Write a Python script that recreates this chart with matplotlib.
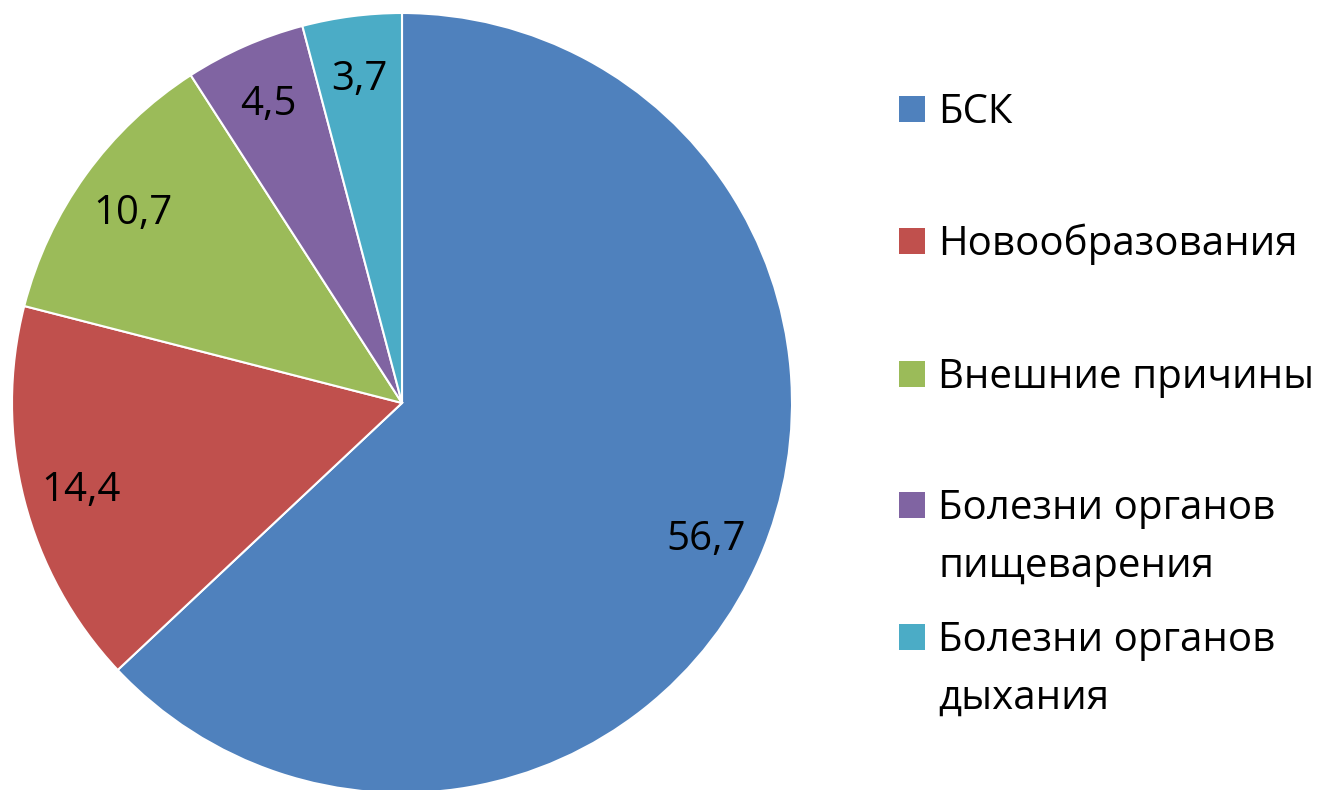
import matplotlib
matplotlib.use("Agg")
import matplotlib.pyplot as plt
from matplotlib.patches import Rectangle

categories = ["БСК", "Новообразования", "Внешние причины",
              "Болезни органов\nпищеварения", "Болезни органов\nдыхания"]
values = [56.7, 14.4, 10.7, 4.5, 3.7]
value_labels = ["56,7", "14,4", "10,7", "4,5", "3,7"]
colors = ["#4F81BD", "#C0504D", "#9BBB59", "#8064A2", "#4BACC6"]

FONT = "Open Sans"
FS = 29
W, H = 1323, 790
fig = plt.figure(figsize=(W / 100, H / 100), dpi=100)
fig.patch.set_facecolor("white")

cx, cy, r = 402, 403, 390
ax = fig.add_axes([(cx - r) / W, (H - cy - r) / H, 2 * r / W, 2 * r / H])
wedges, texts = ax.pie(values, colors=colors, startangle=90, counterclock=False,
                       radius=1, labels=value_labels, labeldistance=0.85,
                       wedgeprops=dict(edgecolor="white", linewidth=1.5),
                       textprops=dict(fontsize=FS, family=FONT, color="black"))
for t in texts:
    t.set_ha("center")
    t.set_va("center_baseline")
ax.set_xlim(-1, 1)
ax.set_ylim(-1, 1)
ax.set_aspect("equal")
ax.axis("off")

# manual legend
row_centers = [109, 241, 374, 505, 637]
sq = 26
line_gap = 58
for lab, col, yc in zip(categories, colors, row_centers):
    fig.patches.append(Rectangle((899 / W, (H - yc - sq / 2) / H), sq / W, sq / H,
                                 transform=fig.transFigure, facecolor=col,
                                 edgecolor="none"))
    for k, line in enumerate(lab.split("\n")):
        base = yc + 14 + k * line_gap
        fig.text(938 / W, (H - base) / H, line, fontsize=FS, family=FONT,
                 va="baseline", ha="left", color="black")

fig.savefig("out.png", dpi=100)
